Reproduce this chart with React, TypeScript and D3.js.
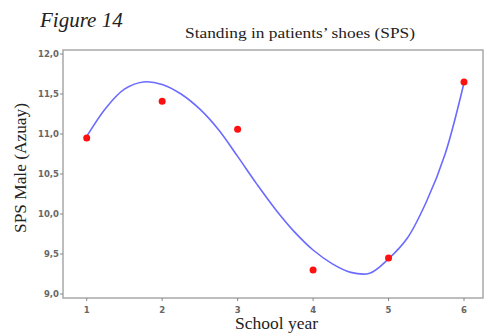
import * as d3 from "d3";

// observed points
const years = [1, 2, 3, 4, 5, 6];
const spsMale = [10.95, 11.41, 11.06, 9.3, 9.45, 11.65];

// fitted curve
const fitX = [1, 1.25, 1.5, 1.75, 2, 2.25, 2.5, 2.75, 3, 3.25, 3.5, 3.75, 4, 4.25, 4.5, 4.75, 5, 5.25, 5.5, 5.75, 6];
const fitY = [10.97, 11.32, 11.56, 11.65, 11.62, 11.5, 11.31, 11.05, 10.72, 10.38, 10.06, 9.78, 9.55, 9.38, 9.27, 9.26, 9.44, 9.7, 10.15, 10.75, 11.64];

const yTicks = [9, 9.5, 10, 10.5, 11, 11.5, 12];

export default function App() {
  const box = { left: 63, top: 50, right: 483, bottom: 298 };
  const x = d3.scaleLinear().domain([1, 6]).range([86.7, 464]);
  const y = d3.scaleLinear().domain([9, 12]).range([294, 54]);

  const line = d3
    .line<number>()
    .x((d) => x(d))
    .y((_, i) => y(fitY[i]))
    .curve(d3.curveCatmullRom);

  const fmt = (v: number) => v.toFixed(1).replace(".", ",");

  return (
    <svg
      width={485}
      height={335}
      style={{ position: "absolute", left: 0, top: 0, background: "#fff" }}
    >
      <text x={40} y={27} fontFamily="Liberation Serif" fontStyle="italic" fontSize={21} fill="#222">
        Figure 14
      </text>
      <text
        x={185}
        y={38}
        textLength={230}
        lengthAdjust="spacingAndGlyphs"
        fontFamily="Liberation Serif"
        fontSize={15.5}
        fill="#222"
      >
        Standing in patients’ shoes (SPS)
      </text>

      {/* frame */}
      <rect
        x={box.left}
        y={box.top}
        width={box.right - box.left}
        height={box.bottom - box.top}
        fill="none"
        stroke="#a8a8a8"
        strokeWidth={1.5}
      />

      {/* y axis */}
      {yTicks.map((t) => (
        <g key={t} transform={`translate(0,${y(t)})`}>
          <line x1={box.left - 3} x2={box.left} stroke="#888" />
          <text
            x={box.left - 4}
            dy="0.35em"
            textAnchor="end"
            fontFamily="DejaVu Sans"
            fontSize={8.5}
            fontWeight="bold"
            fill="#666"
          >
            {fmt(t)}
          </text>
        </g>
      ))}

      {/* x axis */}
      {years.map((t) => (
        <g key={t} transform={`translate(${x(t)},0)`}>
          <line y1={box.bottom} y2={box.bottom + 3} stroke="#888" />
          <text
            y={box.bottom + 15}
            textAnchor="middle"
            fontFamily="DejaVu Sans"
            fontSize={8.5}
            fontWeight="bold"
            fill="#666"
          >
            {t}
          </text>
        </g>
      ))}

      <text
        x={235}
        y={329}
        textLength={83}
        lengthAdjust="spacingAndGlyphs"
        fontFamily="Liberation Serif"
        fontSize={16}
        fill="#222"
      >
        School year
      </text>
      <text
        transform="translate(26,168) rotate(-90)"
        textAnchor="middle"
        textLength={130}
        lengthAdjust="spacingAndGlyphs"
        fontFamily="Liberation Serif"
        fontSize={16}
        fill="#222"
      >
        SPS Male (Azuay)
      </text>

      <path d={line(fitX) ?? ""} fill="none" stroke="#6b6bff" strokeWidth={1.6} />

      {years.map((yr, i) => (
        <circle key={yr} cx={x(yr)} cy={y(spsMale[i])} r={3.5} fill="#ff1010" />
      ))}
    </svg>
  );
}
